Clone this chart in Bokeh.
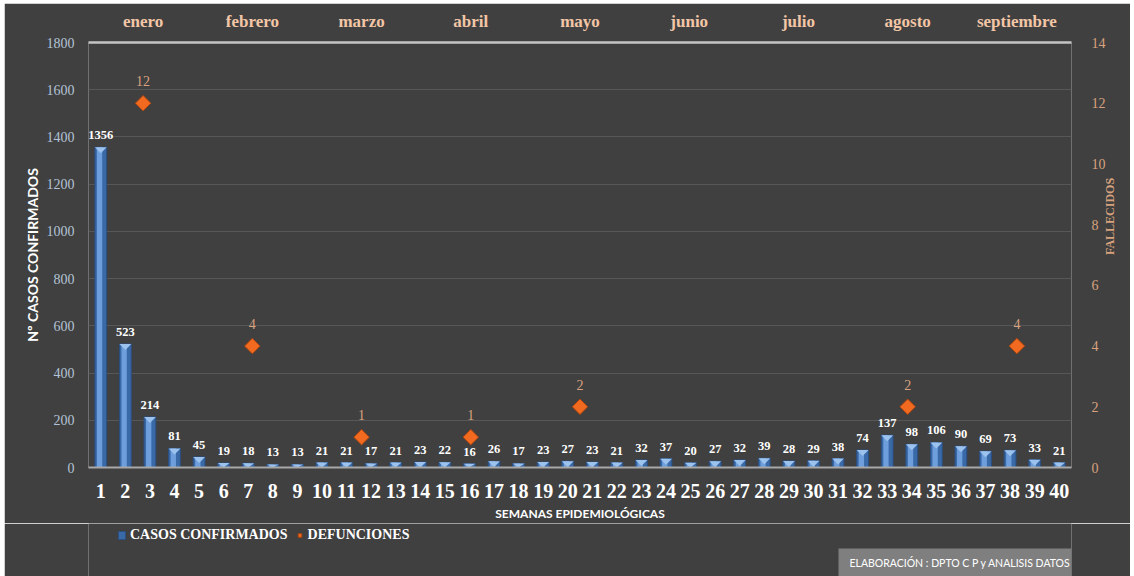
import math
from bokeh.plotting import figure
from bokeh.layouts import column
from bokeh.models import (ColumnDataSource, Range1d, LinearAxis, FixedTicker, LabelSet, Label,
                          Legend, LegendItem, BoxAnnotation)
from bokeh.embed import file_html
from bokeh.resources import INLINE

# Casos confirmados por semana epidemiológica
semanas = list(range(1, 41))
casos = [1356, 523, 214, 81, 45, 19, 18, 13, 13, 21,
         21, 17, 21, 23, 22, 16, 26, 17, 23, 27,
         23, 21, 32, 37, 20, 27, 32, 39, 28, 29,
         38, 74, 137, 98, 106, 90, 69, 73, 33, 21]

# Fallecidos por mes (junio y julio sin registro)
meses = ["enero", "febrero", "marzo", "abril", "mayo", "junio", "julio", "agosto", "septiembre"]
defunciones = [12, 4, 1, 1, 2, None, None, 2, 4]

casos_ticks = list(range(0, 1801, 200))
fallecidos_ticks = list(range(0, 15, 2))

BG = "#404040"
SERIF = "Liberation Serif"
SANS = "Lato"
PEACH = "#f2c6a6"
PEACH_DARK = "#d9a27e"
BAR_FILL, BAR_LINE = "#3a69a8", "#2b4f80"
DIA_FILL, DIA_LINE = "#f26a1f", "#a84410"

p = figure(frame_width=983, frame_height=425, output_backend="svg", toolbar_location=None,
           x_range=Range1d(0.5, 40.5), y_range=Range1d(0, 1800),
           min_border_left=84, min_border_right=59, min_border_top=39, min_border_bottom=55,
           background_fill_color=BG, border_fill_color=BG, outline_line_color=None)
p.margin = (3, 4, 0, 4)
# months share the width of the 40 weeks; each month centred in its slot
p.extra_x_ranges = {"meses": Range1d(0, len(meses))}
p.extra_y_ranges = {"fallecidos": Range1d(0, 14)}
mes_pos = [i + 0.5 for i in range(len(meses))]

# grid
p.xgrid.visible = False
p.ygrid.ticker = FixedTicker(ticks=casos_ticks)
p.ygrid.grid_line_color = "#575757"
p.ygrid.grid_line_width = 1

# bottom axis: semanas
xa = p.xaxis[0]
xa.ticker = FixedTicker(ticks=semanas)
xa.axis_line_color = "#a8a8a8"
xa.axis_line_width = 2
xa.major_tick_line_color = None
xa.minor_tick_line_color = None
xa.major_label_text_font = SERIF
xa.major_label_text_font_style = "bold"
xa.major_label_text_font_size = "20px"
xa.major_label_text_color = "#ffffff"
xa.major_label_standoff = 10
xa.axis_label = "SEMANAS EPIDEMIOLÓGICAS"
xa.axis_label_text_font = SANS
xa.axis_label_text_font_style = "bold"
xa.axis_label_text_font_size = "12px"
xa.axis_label_text_color = "#ffffff"
xa.axis_label_standoff = 5

# left axis: casos
ya = p.yaxis[0]
ya.ticker = FixedTicker(ticks=casos_ticks)
ya.axis_line_color = None
ya.major_tick_line_color = None
ya.minor_tick_line_color = None
ya.major_label_text_font = SERIF
ya.major_label_text_font_size = "14px"
ya.major_label_text_color = "#b3c3d6"
ya.major_label_standoff = 8
ya.axis_label = "Nº CASOS CONFIRMADOS"
ya.axis_label_text_font = SANS
ya.axis_label_text_font_style = "bold"
ya.axis_label_text_font_size = "14px"
ya.axis_label_text_color = "#ffffff"
ya.axis_label_standoff = 3

# right axis: fallecidos
ra = LinearAxis(y_range_name="fallecidos", ticker=FixedTicker(ticks=fallecidos_ticks))
ra.axis_line_color = None
ra.major_tick_line_color = None
ra.minor_tick_line_color = None
ra.major_label_text_font = SERIF
ra.major_label_text_font_size = "14px"
ra.major_label_text_color = PEACH_DARK
ra.major_label_standoff = 14
ra.axis_label = "FALLECIDOS"
ra.axis_label_orientation = math.pi / 2
ra.axis_label_text_font = SERIF
ra.axis_label_text_font_style = "bold"
ra.axis_label_text_font_size = "12px"
ra.axis_label_text_color = PEACH_DARK
ra.axis_label_standoff = 1
p.add_layout(ra, "right")

# top axis: meses
ta = LinearAxis(x_range_name="meses", ticker=FixedTicker(ticks=mes_pos),
                major_label_overrides={pos: m for pos, m in zip(mes_pos, meses)})
ta.axis_line_color = "#c4c4c4"
ta.axis_line_width = 2.5
ta.major_tick_line_color = None
ta.minor_tick_line_color = None
ta.major_label_text_font = SERIF
ta.major_label_text_font_style = "bold"
ta.major_label_text_font_size = "17px"
ta.major_label_text_color = PEACH
ta.major_label_standoff = 6
p.add_layout(ta, "above")

# bars
bar_w = 0.48
src = ColumnDataSource(data=dict(
    semana=semanas, casos=casos,
    hl_x=[s - 0.05 for s in semanas],
    etiqueta=[str(c) for c in casos],
))
p.vbar(x="semana", top="casos", width=bar_w, source=src,
       fill_color=BAR_FILL, line_color=BAR_LINE, line_width=1)
p.vbar(x="hl_x", top="casos", width=bar_w * 0.45, source=src,
       fill_color="#6e9fdc", line_color=None)

# chevron cap on each bar
cap = 6 * 1800 / 425
cap_xs = [[s - bar_w / 2, s + bar_w / 2, s] for s in semanas]
cap_ys = [[c, c, c - min(cap, c)] for c in casos]
p.patches(xs=cap_xs, ys=cap_ys, fill_color="#9cc2ee", line_color=None)

p.add_layout(LabelSet(x="semana", y="casos", text="etiqueta", source=src,
                      text_align="center", text_baseline="bottom", y_offset=8,
                      text_font=SANS, text_font_style="bold", text_font_size="12.5px",
                      text_color="#ffffff"))

# deaths
dx = [x for x, d in zip(mes_pos, defunciones) if d is not None]
dv = [d for d in defunciones if d is not None]
dsrc = ColumnDataSource(data=dict(mes=dx, fallecidos=dv, etiqueta=[str(d) for d in dv]))
p.scatter(x="mes", y="fallecidos", source=dsrc, marker="square", size=11,
          angle=math.pi / 4, fill_color=DIA_FILL, line_color=DIA_LINE, line_width=1,
          x_range_name="meses", y_range_name="fallecidos")
p.add_layout(LabelSet(x="mes", y="fallecidos", text="etiqueta", source=dsrc,
                      x_range_name="meses", y_range_name="fallecidos",
                      text_align="center", text_baseline="bottom", y_offset=17,
                      text_font=SERIF, text_font_size="14px", text_color=PEACH_DARK))

# footer strip under the chart: legend and credit box, in pixel offsets from the frame
q = figure(width=1126, height=54, output_backend="svg", toolbar_location=None,
           x_range=Range1d(0, 983), y_range=Range1d(0, 54),
           min_border=0, background_fill_color=BG, border_fill_color=BG,
           outline_line_color=None)
q.margin = (0, 4, 0, 4)
q.axis.visible = False
q.grid.visible = False
# legend swatches share the chart's data but are drawn out of view
q.extra_y_ranges = {"oculto": Range1d(1e6, 2e6)}
leg_bar = q.vbar(x="semana", top="casos", width=1, source=src, y_range_name="oculto",
                 fill_color=BAR_FILL, line_color=BAR_LINE)
leg_dia = q.scatter(x="mes", y="fallecidos", source=dsrc, y_range_name="oculto",
                    marker="square", size=12, angle=math.pi / 4,
                    fill_color=DIA_FILL, line_color=DIA_LINE)
legend = Legend(items=[LegendItem(label="CASOS CONFIRMADOS", renderers=[leg_bar]),
                       LegendItem(label="DEFUNCIONES", renderers=[leg_dia])],
                orientation="horizontal", location=(29, 34),
                background_fill_alpha=0, border_line_color=None,
                label_text_font=SERIF, label_text_font_style="bold",
                label_text_font_size="14px", label_text_color="#ffffff",
                glyph_width=9, glyph_height=10, label_standoff=4, spacing=7,
                padding=0, margin=0)
q.add_layout(legend, "center")

q.add_layout(BoxAnnotation(left=750, right=983, bottom=0, top=29,
                           fill_color="#7f7f7f", fill_alpha=1, line_color=None))
q.add_layout(Label(x=761, y=15, text="ELABORACIÓN  : DPTO C P y ANALISIS  DATOS",
                   text_baseline="middle", text_font=SANS, text_font_size="10.5px",
                   text_color="#ffffff"))

layout = column(p, q, spacing=0)
open("out.html", "w").write(file_html(layout, INLINE))
